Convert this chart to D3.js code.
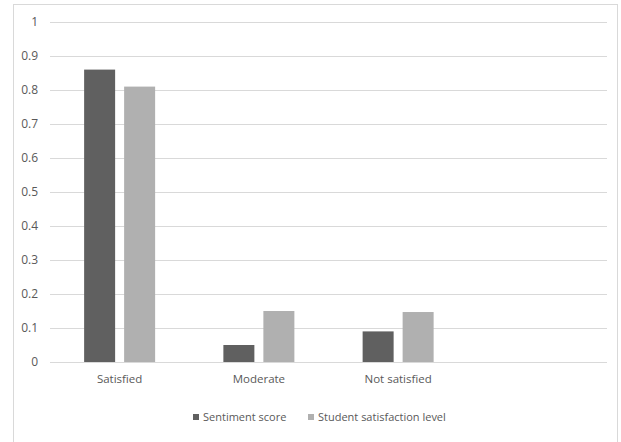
<!DOCTYPE html>
<html>
<head>
<meta charset="utf-8">
<script src="https://cdn.jsdelivr.net/npm/d3@7"></script>
<style>
  html, body { margin: 0; padding: 0; background: #fff; }
  svg { display: block; }
  text { font-family: "Open Sans", sans-serif; fill: #595959; }
</style>
</head>
<body>
<svg id="chart" width="621" height="442"></svg>
<script>
// Category slots on the x axis (the last slot is left empty)
const categories = ["Satisfied", "Moderate", "Not satisfied", ""];
const seriesNames = ["Sentiment score", "Student satisfaction level"];
const sentimentScore = [0.86, 0.05, 0.09, null];
const satisfactionLevel = [0.81, 0.15, 0.147, null];
const yTicks = [0, 0.1, 0.2, 0.3, 0.4, 0.5, 0.6, 0.7, 0.8, 0.9, 1];
const colors = ["#606060", "#b0b0b0"];

const svg = d3.select("#chart");
const margin = { left: 50, right: 14 };
const W = 621;
const font = "'Open Sans', sans-serif";

// Outer chart border
svg.append("rect")
  .attr("x", 13.5).attr("y", 4.5)
  .attr("width", 604).attr("height", 460)
  .attr("fill", "none").attr("stroke", "#d9d9d9").attr("stroke-width", 1);

const x = d3.scaleBand().domain(d3.range(categories.length))
  .range([margin.left, W - margin.right]).paddingInner(0).paddingOuter(0);
const y = d3.scaleLinear().domain([0, 1]).range([362, 22]);

// Offsets of the two series inside a category
const barW = 31, barGap = 9;
const xs = d3.scaleOrdinal().domain([0, 1])
  .range([-(barW + barGap / 2), barGap / 2]);

// Gridlines
svg.append("g").selectAll("line").data(yTicks).join("line")
  .attr("x1", x.range()[0]).attr("x2", x.range()[1])
  .attr("y1", d => Math.round(y(d)) + 0.5).attr("y2", d => Math.round(y(d)) + 0.5)
  .attr("stroke", "#d9d9d9").attr("stroke-width", 1);

// Y axis labels
const yAxis = d3.axisLeft(y).tickValues(yTicks).tickSize(0).tickPadding(0)
  .tickFormat(d => d3.format("")(+d.toFixed(1)));
svg.append("g").attr("transform", "translate(38,0)").call(yAxis)
  .call(g => g.select(".domain").remove())
  .selectAll("text").style("font-size", "12px").attr("fill", "#595959")
  .style("font-family", font);

// Bars
const series = [sentimentScore, satisfactionLevel];
series.forEach((vals, si) => {
  svg.append("g").selectAll("rect")
    .data(vals.map((v, i) => ({ v, i })).filter(d => d.v !== null))
    .join("rect")
    .attr("x", d => x(d.i) + x.bandwidth() / 2 + xs(si))
    .attr("width", barW)
    .attr("y", d => y(d.v))
    .attr("height", d => y(0) - y(d.v))
    .attr("fill", colors[si]);
});

// X axis category labels
const xAxis = d3.axisBottom(x).tickSize(0).tickPadding(0).tickFormat(i => categories[i]);
svg.append("g").attr("transform", "translate(0,375)").call(xAxis)
  .call(g => g.select(".domain").remove())
  .selectAll("text").style("font-size", "11.5px").attr("fill", "#595959")
  .style("font-family", font);

// Legend
const legendX = [193, 308];
const legend = svg.append("g");
seriesNames.forEach((name, i) => {
  const g = legend.append("g").attr("transform", `translate(${legendX[i]},417)`);
  g.append("rect").attr("x", 0).attr("y", -3).attr("width", 6).attr("height", 6).attr("fill", colors[i]);
  g.append("text").attr("x", 10).attr("y", 0).attr("dy", "0.35em")
    .style("font-size", "11px").text(name);
});
</script>
</body>
</html>
